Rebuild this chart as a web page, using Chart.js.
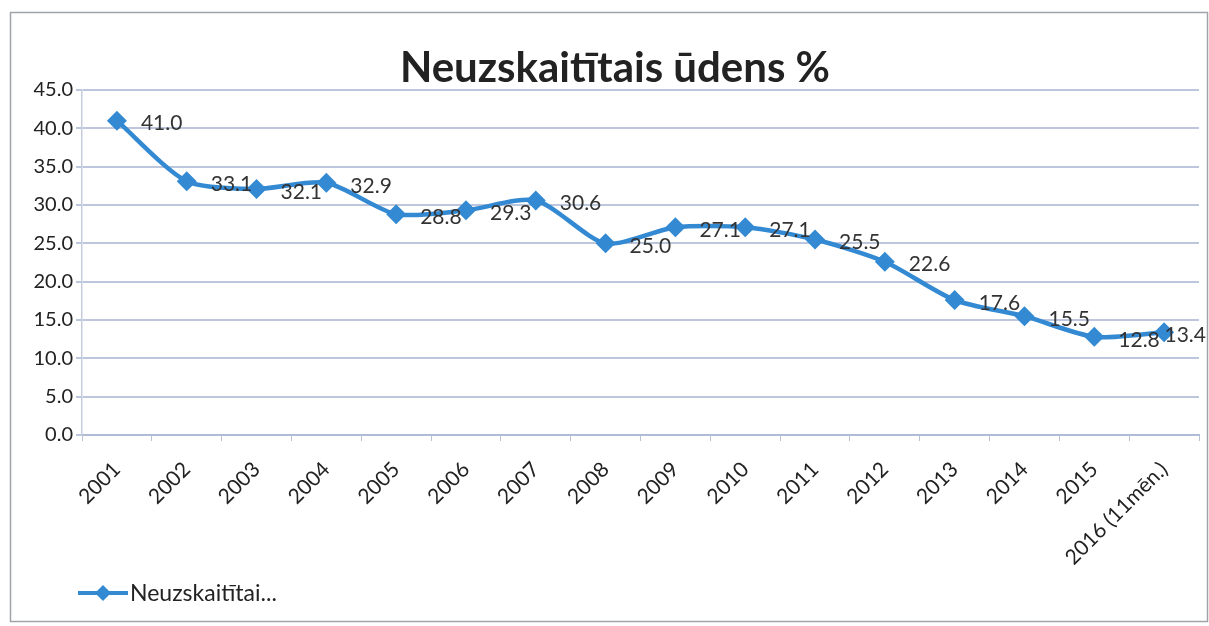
<!DOCTYPE html>
<html>
<head>
<meta charset="utf-8">
<script src="https://cdn.jsdelivr.net/npm/chart.js@4/dist/chart.umd.min.js"></script>
<style>
  html, body { margin: 0; padding: 0; background: #fff; }
  #wrap { width: 1209px; height: 626px; position: relative; }
</style>
</head>
<body>
<div id="wrap"><canvas id="myChart" width="1209" height="626"></canvas></div>
<script>
// chart data
var years = ['2001', '2002', '2003', '2004', '2005', '2006', '2007', '2008',
             '2009', '2010', '2011', '2012', '2013', '2014', '2015', '2016 (11mēn.)'];
var lossPercent = [41.0, 33.1, 32.1, 32.9, 28.8, 29.3, 30.6, 25.0,
                   27.1, 27.1, 25.5, 22.6, 17.6, 15.5, 12.8, 13.4];
var yTicks = [0, 5, 10, 15, 20, 25, 30, 35, 40, 45];

var chartTitle = 'Neuzskaitītais ūdens %';
var legendText = 'Neuzskaitītai...';
var lineColor = '#3389d2';
var fontName = 'Lato, "Open Sans", sans-serif';

// frame, title, value labels and legend
var decorPlugin = {
    id: 'decor',
    beforeDraw: function (chart) {
        var c = chart.ctx;
        c.save();
        c.fillStyle = '#ffffff';
        c.fillRect(0, 0, chart.width, chart.height);
        c.strokeStyle = '#a0a4aa';
        c.lineWidth = 1.5;
        c.strokeRect(10.5, 12.5, 1197, 609);
        c.restore();
    },
    afterDatasetsDraw: function (chart) {
        var c = chart.ctx;
        c.save();
        // value labels (pushed back inside the frame at the right edge)
        c.font = '21px ' + fontName;
        c.fillStyle = '#333333';
        c.textAlign = 'left';
        c.textBaseline = 'middle';
        chart.getDatasetMeta(0).data.forEach(function (pt, i) {
            var txt = lossPercent[i].toFixed(1);
            var x = Math.min(pt.x + 24, 1206 - c.measureText(txt).width);
            c.fillText(txt, x, pt.y + 3);
        });
        // title
        c.font = 'bold 42px ' + fontName;
        c.fillStyle = '#222222';
        c.textAlign = 'center';
        c.fillText(chartTitle, 615, 68);
        // legend
        var ly = 593;
        c.strokeStyle = lineColor;
        c.lineWidth = 4;
        c.beginPath();
        c.moveTo(78, ly);
        c.lineTo(128, ly);
        c.stroke();
        c.fillStyle = lineColor;
        c.beginPath();
        c.moveTo(103, ly - 8);
        c.lineTo(111, ly);
        c.lineTo(103, ly + 8);
        c.lineTo(95, ly);
        c.closePath();
        c.fill();
        c.font = '23px ' + fontName;
        c.fillStyle = '#222222';
        c.textAlign = 'left';
        c.fillText(legendText, 130, ly + 1);
        c.restore();
    }
};

var ctx = document.getElementById('myChart').getContext('2d');

new Chart(ctx, {
    type: 'line',
    data: {
        labels: years,
        datasets: [{
            label: legendText,
            data: lossPercent,
            borderColor: lineColor,
            backgroundColor: lineColor,
            borderWidth: 4.5,
            tension: 0.25,
            pointStyle: 'rectRot',
            pointRadius: 10,
            pointHoverRadius: 10,
            pointBorderWidth: 0
        }]
    },
    options: {
        responsive: false,
        animation: false,
        devicePixelRatio: 1,
        layout: { padding: { left: 0, right: 9, top: 90, bottom: 0 } },
        plugins: {
            legend: { display: false },
            title: { display: false },
            tooltip: { enabled: false }
        },
        scales: {
            x: {
                offset: true,
                grid: {
                    offset: true,
                    drawOnChartArea: false,
                    drawTicks: true,
                    tickLength: 6,
                    color: '#b8c2d6'
                },
                border: { color: '#b0bcd4', width: 2 },
                ticks: {
                    minRotation: 45,
                    maxRotation: 45,
                    autoSkip: false,
                    padding: 16,
                    color: '#222222',
                    font: { family: fontName, size: 21 }
                },
                afterFit: function (scale) { scale.height = 191; }
            },
            y: {
                min: 0,
                max: 45,
                afterBuildTicks: function (scale) {
                    scale.ticks = yTicks.map(function (v) { return { value: v }; });
                },
                grid: {
                    color: '#bcc6dc',
                    lineWidth: 2,
                    drawTicks: true,
                    tickLength: 6
                },
                border: { color: '#c4cde0', width: 1.5 },
                ticks: {
                    color: '#222222',
                    padding: 3,
                    font: { family: fontName, size: 20 },
                    callback: function (v) { return Number(v).toFixed(1); }
                },
                afterFit: function (scale) { scale.width = 82; }
            }
        }
    },
    plugins: [decorPlugin]
});
</script>
</body>
</html>
